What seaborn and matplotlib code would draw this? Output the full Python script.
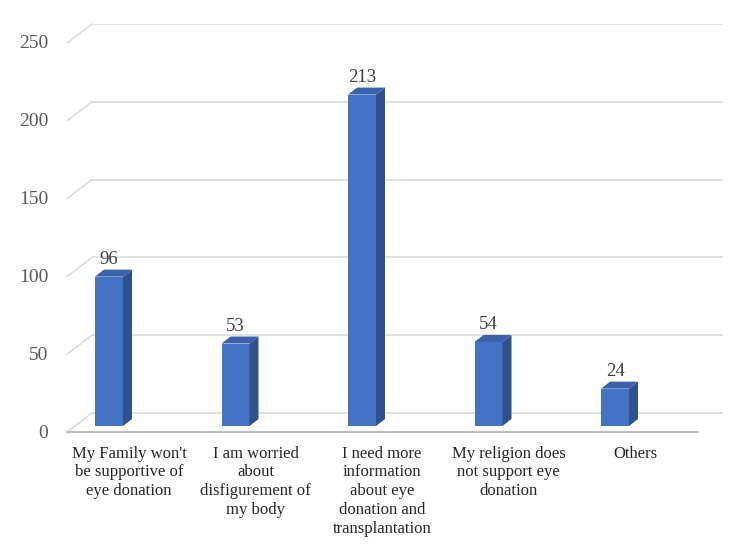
import matplotlib
matplotlib.use("Agg")
import matplotlib.pyplot as plt
import matplotlib.transforms as mtransforms
import seaborn as sns

# Reasons for not pledging eye donation
categories = [
    "My Family won't\nbe supportive of\neye donation",
    "I am worried\nabout\ndisfigurement of\nmy body",
    "I need more\ninformation\nabout eye\ndonation and\ntransplantation",
    "My religion does\nnot support eye\ndonation",
    "Others",
]
counts = [96, 53, 213, 54, 24]
y_ticks = [0, 50, 100, 150, 200, 250]

sns.set_style("white")
plt.rcParams["font.family"] = ["Liberation Serif", "DejaVu Serif"]

fig = plt.figure(figsize=(7.5, 5.53), dpi=100)
ax = fig.add_axes([67 / 750, 113 / 553, 656 / 750, 416 / 553])

# pixel -> data unit helpers (fixed layout)
px_x = 1 / 126.5
px_y = 250 / 389

sns.barplot(x=list(range(len(counts))), y=counts, ax=ax, color="#4472C4",
            saturation=1, width=28 * px_x, zorder=3, linewidth=0)

x0 = -42 * px_x
ax.set_xlim(x0, x0 + 656 * px_x)
ax.set_ylim(-27 * px_y, 250)
for s in ax.spines.values():
    s.set_visible(False)

# back wall gridlines with the slanted left edge
grid_start = x0 + 25 * px_x
for v in y_ticks:
    ax.plot([grid_start, ax.get_xlim()[1]], [v, v], color="#d9d9d9", lw=1.1, zorder=0)
    ax.plot([x0, grid_start], [v - 19 * px_y, v], color="#d9d9d9", lw=1.1,
            zorder=0, clip_on=False)

# front floor edge
ax.plot([x0, x0 + 631 * px_x], [-19 * px_y, -19 * px_y], color="#bfbfbf", lw=1.6,
        zorder=1, clip_on=False)

# fake 3D: move the front face forward, add side and top faces
dx, dy = 9 * px_x, 7 * px_y
for p, v in zip(ax.patches, counts):
    p.set_y(p.get_y() - 13 * px_y)
    xl, w = p.get_x(), p.get_width()
    yb, yt = p.get_y(), p.get_y() + p.get_height()
    xr = xl + w
    ax.fill([xr, xr + dx, xr + dx, xr], [yb, yb + dy, yt + dy, yt],
            color="#2F528F", zorder=3, lw=0)
    ax.fill([xl, xr, xr + dx, xl + dx], [yt, yt, yt + dy, yt + dy],
            color="#3A62AA", zorder=3, lw=0)
    ax.text(xl + w / 2, yt + dy + 6 * px_y, str(v), ha="center", va="baseline",
            fontsize=13.5, color="#404040")

# y tick labels sit on the front edge
ax.set_yticks(y_ticks)
ax.set_yticklabels([str(t) for t in y_ticks], fontsize=14, color="#595959")
ax.tick_params(axis="y", length=0, pad=13.5)
shift_y = mtransforms.ScaledTranslation(0, -18 / 100, fig.dpi_scale_trans)
for lab in ax.get_yticklabels():
    lab.set_transform(lab.get_transform() + shift_y)

ax.set_xticks(range(len(categories)))
ax.set_xticklabels(categories, fontsize=12, color="#262626", linespacing=1.24)
ax.tick_params(axis="x", length=0, pad=4)
shift_x = mtransforms.ScaledTranslation(20 / 100, 0, fig.dpi_scale_trans)
for lab in ax.get_xticklabels():
    lab.set_transform(lab.get_transform() + shift_x)

ax.set_xlabel("")
ax.set_ylabel("")
fig.savefig("out.png", dpi=100)
